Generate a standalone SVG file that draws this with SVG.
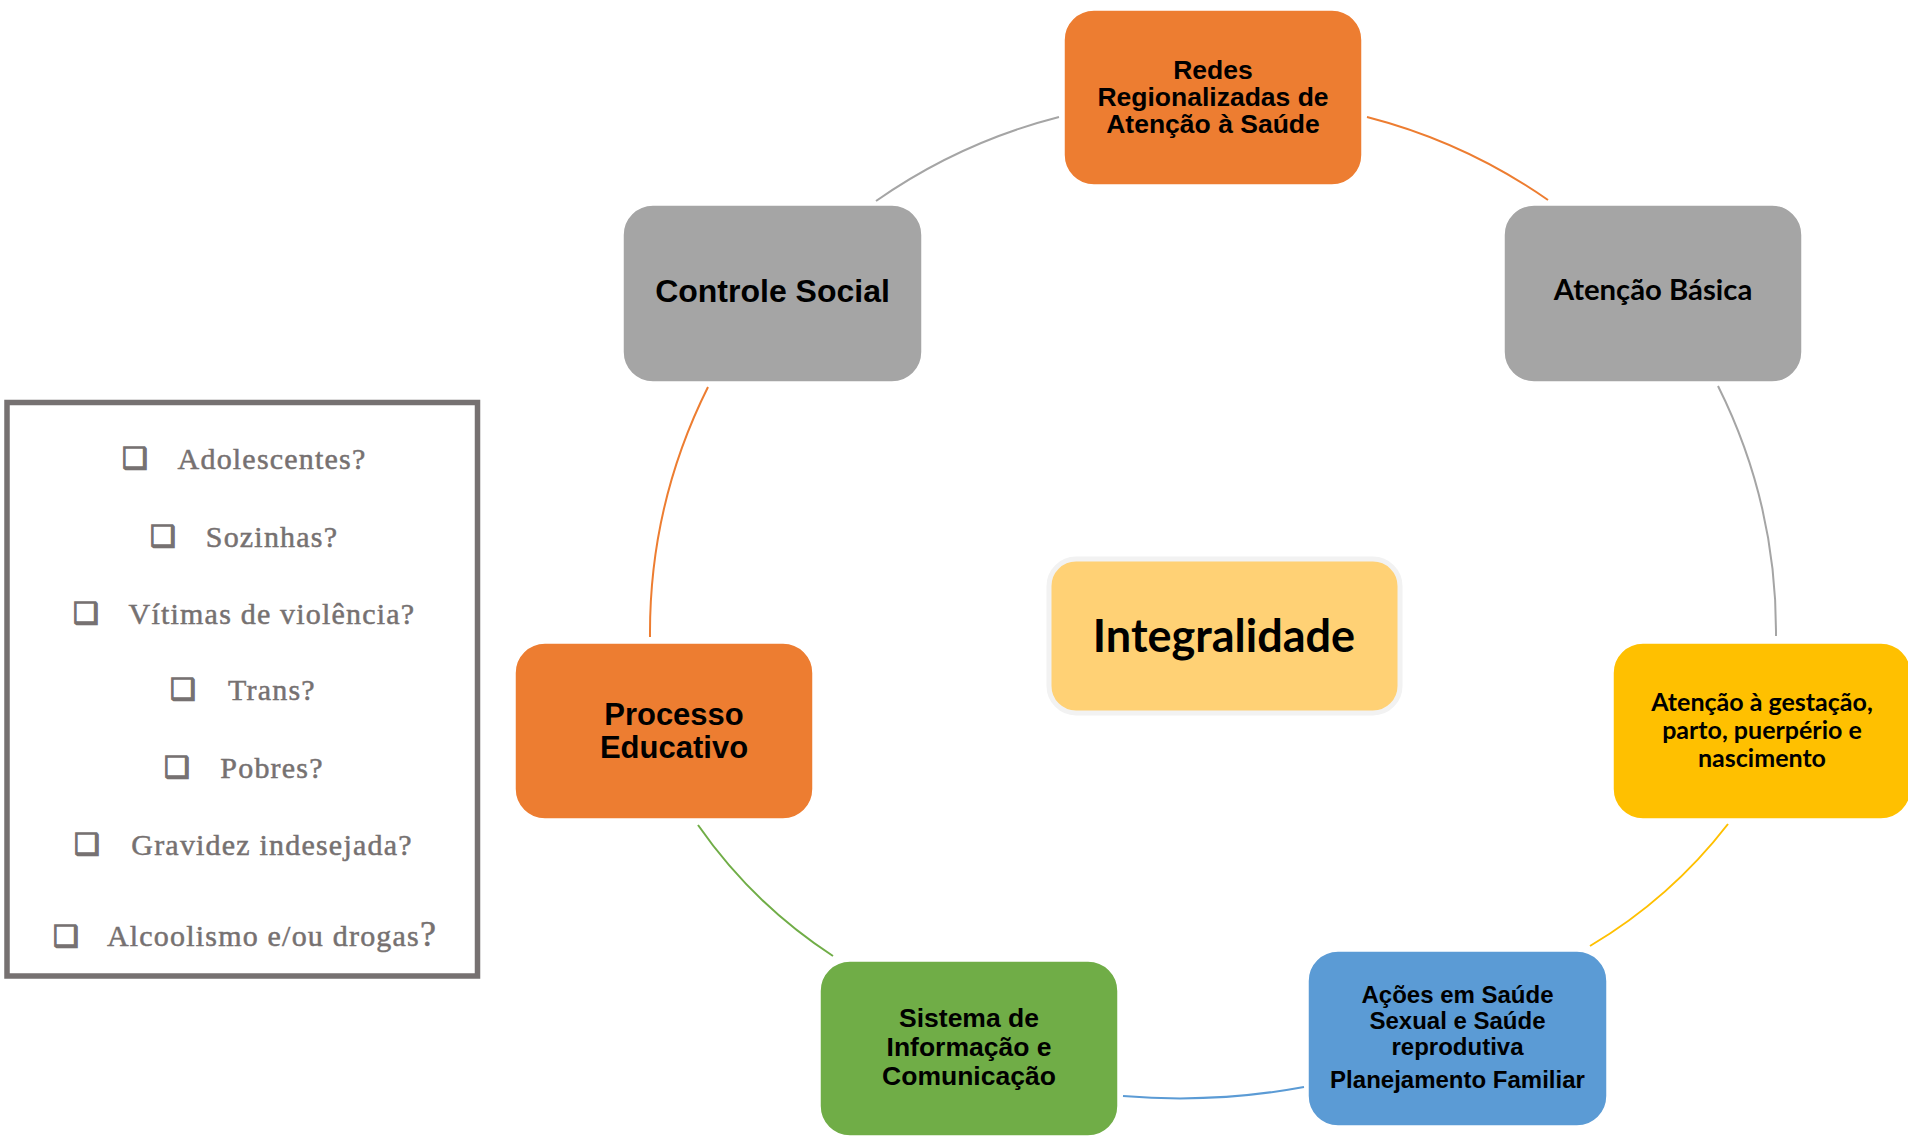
<svg xmlns="http://www.w3.org/2000/svg" width="1908" height="1138" viewBox="0 0 1908 1138">
<style>
.node{stroke:#ffffff;stroke-width:1.5}
.ar{font-family:"Liberation Sans",Arial,sans-serif;font-weight:bold;fill:#000;text-anchor:middle}
.ca{font-family:Lato,"Open Sans",sans-serif;font-weight:bold;fill:#000;text-anchor:middle}
.q{font-family:"Liberation Serif","Times New Roman",serif;font-size:30px;letter-spacing:1.2px;fill:#767171;stroke:#767171;stroke-width:0.5;text-anchor:middle}
.cb{font-family:"DejaVu Sans",sans-serif;font-size:29px;fill:#767171;stroke:#767171;stroke-width:1.3}
.conn{fill:none;stroke-width:2}
</style>
<rect width="1908" height="1138" fill="#ffffff"/>
<g id="connectors">
<path class="conn" stroke="#A5A5A5" d="M876,201 A560,560 0 0 1 1059,117"/>
<path class="conn" stroke="#ED7D31" d="M1367,117 A560,560 0 0 1 1548,200"/>
<path class="conn" stroke="#A5A5A5" d="M1718,386 A550,550 0 0 1 1776,636"/>
<path class="conn" stroke="#FFC000" d="M1728,824 A490,490 0 0 1 1590,946"/>
<path class="conn" stroke="#5B9BD5" d="M1304,1087 A685,685 0 0 1 1123,1096"/>
<path class="conn" stroke="#70AD47" d="M833,956 A490,490 0 0 1 698,825"/>
<path class="conn" stroke="#ED7D31" d="M650,637 A550,550 0 0 1 708,387"/>
</g>
<g id="questions">
<rect x="7" y="402.5" width="470.5" height="573.5" fill="#ffffff" stroke="#767171" stroke-width="5.5"/>
<text class="cb" x="122" y="468">❑</text><text class="q" x="272" y="469">Adolescentes?</text>
<text class="cb" x="150" y="546">❑</text><text class="q" x="272" y="547">Sozinhas?</text>
<text class="cb" x="73" y="623">❑</text><text class="q" x="272" y="624">Vítimas de violência?</text>
<text class="cb" x="170" y="699">❑</text><text class="q" x="272" y="700">Trans?</text>
<text class="cb" x="164" y="777">❑</text><text class="q" x="272" y="778">Pobres?</text>
<text class="cb" x="74" y="854">❑</text><text class="q" x="272" y="855">Gravidez indesejada?</text>
<text class="cb" x="53" y="946">❑</text><text class="q" x="272" y="946">Alcoolismo e/ou drogas<tspan font-size="36">?</tspan></text>
</g>
<g id="redes">
<rect class="node" x="1064" y="10" width="298" height="175" rx="30" fill="#ED7D31"/>
<text class="ar" font-size="26.5" x="1213" y="79">Redes</text>
<text class="ar" font-size="26.5" x="1213" y="106">Regionalizadas de</text>
<text class="ar" font-size="26.5" x="1213" y="133">Atenção à Saúde</text>
</g>
<g id="controle-social">
<rect class="node" x="623" y="205" width="299" height="177" rx="30" fill="#A5A5A5"/>
<text class="ar" font-size="32" x="772.5" y="302">Controle Social</text>
</g>
<g id="atencao-basica">
<rect class="node" x="1504" y="205" width="298" height="177" rx="30" fill="#A5A5A5"/>
<text class="ca" font-size="29.3" x="1653" y="300">Atenção Básica</text>
</g>
<g id="gestacao">
<rect class="node" x="1613" y="643" width="298" height="176" rx="30" fill="#FFC000"/>
<text class="ca" font-size="25" x="1762" y="711">Atenção à gestação,</text>
<text class="ca" font-size="25" x="1762" y="739">parto, puerpério e</text>
<text class="ca" font-size="25" x="1762" y="767">nascimento</text>
</g>
<g id="acoes">
<rect class="node" x="1308" y="951" width="299" height="175" rx="30" fill="#5B9BD5"/>
<text class="ar" font-size="24" x="1457.5" y="1003">Ações em Saúde</text>
<text class="ar" font-size="24" x="1457.5" y="1029">Sexual e Saúde</text>
<text class="ar" font-size="24" x="1457.5" y="1055">reprodutiva</text>
<text class="ar" font-size="24" x="1457.5" y="1088">Planejamento Familiar</text>
</g>
<g id="sistema">
<rect class="node" x="820" y="961" width="298" height="175" rx="30" fill="#70AD47"/>
<text class="ar" font-size="26.5" x="969" y="1027">Sistema de</text>
<text class="ar" font-size="26.5" x="969" y="1056">Informação e</text>
<text class="ar" font-size="26.5" x="969" y="1085">Comunicação</text>
</g>
<g id="processo-educativo">
<rect class="node" x="515" y="643" width="298" height="176" rx="30" fill="#ED7D31"/>
<text class="ar" font-size="31" x="674" y="725">Processo</text>
<text class="ar" font-size="31" x="674" y="758">Educativo</text>
</g>
<g id="integralidade">
<rect x="1049" y="559" width="351" height="154" rx="27" fill="#FFD175" stroke="#F2F2F2" stroke-width="5"/>
<text class="ca" font-size="45" x="1224" y="652">Integralidade</text>
</g>
</svg>
